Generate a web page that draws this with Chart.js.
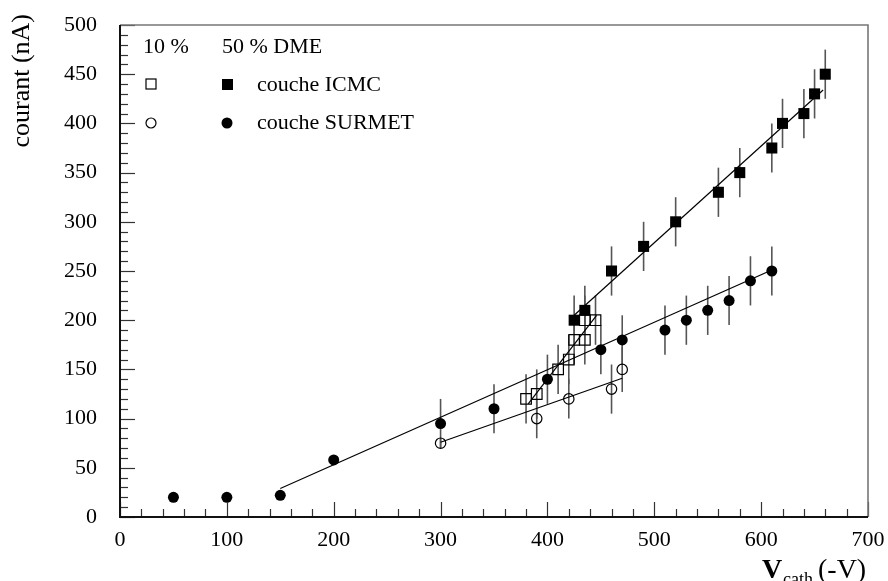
<!DOCTYPE html>
<html>
<head>
<meta charset="utf-8">
<script src="https://cdn.jsdelivr.net/npm/chart.js@4.4.1/dist/chart.umd.min.js"></script>
<style>
  body { margin: 0; background: #fff; }
  canvas { display: block; }
</style>
</head>
<body>
<canvas id="chart" width="888" height="581"></canvas>
<script>
// axes
const xTicks = [0, 100, 200, 300, 400, 500, 600, 700];
const yTicks = [0, 50, 100, 150, 200, 250, 300, 350, 400, 450, 500];
const xMinorStep = 20;
const yMinorStep = 10;

// 50 % DME, couche ICMC (carrés pleins)
const icmc50X = [425, 435, 460, 490, 520, 560, 580, 610, 620, 640, 650, 660];
const icmc50Y = [200, 210, 250, 275, 300, 330, 350, 375, 400, 410, 430, 450];
const icmc50Err = [25, 25, 25, 25, 25, 25, 25, 25, 25, 25, 25, 25];

// 50 % DME, couche SURMET (ronds pleins)
const surmet50X = [50, 100, 150, 200, 300, 350, 400, 450, 470, 510, 530, 550, 570, 590, 610];
const surmet50Y = [20, 20, 22, 58, 95, 110, 140, 170, 180, 190, 200, 210, 220, 240, 250];
const surmet50Err = [0, 0, 0, 0, 25, 25, 25, 25, 25, 25, 25, 25, 25, 25, 25];

// 10 % DME, couche ICMC (carrés vides)
const icmc10X = [380, 390, 410, 420, 425, 435, 435, 445];
const icmc10Y = [120, 125, 150, 160, 180, 180, 200, 200];
const icmc10Err = [25, 25, 25, 25, 25, 25, 25, 25];

// 10 % DME, couche SURMET (ronds vides)
const surmet10X = [300, 390, 420, 460, 470];
const surmet10Y = [75, 100, 120, 130, 150];
const surmet10Err = [5, 20, 20, 25, 23];

// droites d'ajustement (extrémités)
const fitIcmc50X = [425, 658];
const fitIcmc50Y = [205, 434];
const fitSurmet50X = [150, 610];
const fitSurmet50Y = [29, 251];
const fitIcmc10X = [382, 446];
const fitIcmc10Y = [115, 205];
const fitSurmet10X = [300, 470];
const fitSurmet10Y = [76, 141];

const FONT = "'Liberation Serif', 'DejaVu Serif', serif";

const toPoints = (xs, ys) => xs.map((x, i) => ({ x, y: ys[i] }));

const fitLine = (xs, ys) => ({
    type: 'line',
    data: toPoints(xs, ys),
    borderColor: '#000',
    borderWidth: 1.2,
    pointRadius: 0,
    fill: false,
    order: 5,
});

const markers = (xs, ys, errs, style, radius, filled) => ({
    type: 'scatter',
    data: toPoints(xs, ys),
    errors: errs,
    pointStyle: style,
    pointRadius: radius,
    pointHoverRadius: radius,
    borderColor: '#000',
    borderWidth: filled ? 0 : 1.2,
    backgroundColor: filled ? '#000' : 'rgba(0,0,0,0)',
    order: filled ? 1 : 2,
});

// barres d'erreur verticales
const errorBars = {
    id: 'errorBars',
    beforeDatasetsDraw(chart) {
        const { ctx, chartArea, scales } = chart;
        ctx.save();
        ctx.beginPath();
        ctx.rect(chartArea.left, chartArea.top, chartArea.right - chartArea.left, chartArea.bottom - chartArea.top);
        ctx.clip();
        ctx.strokeStyle = '#555';
        ctx.lineWidth = 1.6;
        chart.data.datasets.forEach((ds) => {
            if (!ds.errors) return;
            ds.data.forEach((p, i) => {
                const e = ds.errors[i];
                if (!e) return;
                const px = scales.x.getPixelForValue(p.x);
                ctx.beginPath();
                ctx.moveTo(px, scales.y.getPixelForValue(p.y - e));
                ctx.lineTo(px, scales.y.getPixelForValue(p.y + e));
                ctx.stroke();
            });
        });
        ctx.restore();
    },
};

// cadre, graduations intérieures, titres et légende
const frame = {
    id: 'frame',
    afterDraw(chart) {
        const { ctx, chartArea: a, scales } = chart;
        const sx = scales.x, sy = scales.y;
        ctx.save();

        // graduations
        ctx.strokeStyle = '#333';
        ctx.lineWidth = 1.2;
        for (let v = 0; v <= sx.max; v += xMinorStep) {
            const px = Math.round(sx.getPixelForValue(v)) + 0.5;
            const len = v % 100 === 0 ? 15 : 8;
            ctx.beginPath();
            ctx.moveTo(px, a.bottom);
            ctx.lineTo(px, a.bottom - len);
            ctx.stroke();
        }
        for (let v = 0; v <= sy.max; v += yMinorStep) {
            const py = Math.round(sy.getPixelForValue(v)) + 0.5;
            const len = v % 50 === 0 ? 15 : 8;
            ctx.beginPath();
            ctx.moveTo(a.left, py);
            ctx.lineTo(a.left + len, py);
            ctx.stroke();
        }

        // cadre
        ctx.lineWidth = 1.6;
        ctx.strokeStyle = '#777';
        ctx.beginPath();
        ctx.moveTo(a.left, a.top);
        ctx.lineTo(a.right, a.top);
        ctx.lineTo(a.right, a.bottom);
        ctx.stroke();
        ctx.lineWidth = 2;
        ctx.strokeStyle = '#111';
        ctx.beginPath();
        ctx.moveTo(a.left, a.top);
        ctx.lineTo(a.left, a.bottom);
        ctx.lineTo(a.right, a.bottom);
        ctx.stroke();

        // titre axe y
        ctx.fillStyle = '#000';
        ctx.font = `26px ${FONT}`;
        ctx.save();
        ctx.translate(29, 14);
        ctx.rotate(-Math.PI / 2);
        ctx.textAlign = 'right';
        ctx.textBaseline = 'alphabetic';
        ctx.fillText('courant (nA)', 0, 0);
        ctx.restore();

        // titre axe x
        ctx.textAlign = 'left';
        ctx.textBaseline = 'alphabetic';
        ctx.font = `bold 28px ${FONT}`;
        ctx.fillText('V', 762, 578);
        ctx.font = `18px ${FONT}`;
        ctx.fillText('cath', 783, 585);
        ctx.font = `28px ${FONT}`;
        ctx.fillText('(-V)', 818, 578);

        // légende
        ctx.font = `22px ${FONT}`;
        ctx.textBaseline = 'middle';
        ctx.fillText('10 %', 143, 47);
        ctx.fillText('50 % DME', 222, 47);
        ctx.fillText('couche ICMC', 257, 85);
        ctx.fillText('couche SURMET', 257, 123);
        ctx.lineWidth = 1.2;
        ctx.strokeStyle = '#000';
        ctx.strokeRect(146, 79, 10, 10);
        ctx.fillRect(222, 79, 11, 11);
        ctx.beginPath();
        ctx.arc(151, 123, 5, 0, Math.PI * 2);
        ctx.stroke();
        ctx.beginPath();
        ctx.arc(227, 123, 5.5, 0, Math.PI * 2);
        ctx.fill();

        ctx.restore();
    },
};

const tickFont = { family: FONT, size: 22 };

new Chart(document.getElementById('chart'), {
    data: {
        datasets: [
            fitLine(fitIcmc50X, fitIcmc50Y),
            fitLine(fitSurmet50X, fitSurmet50Y),
            fitLine(fitIcmc10X, fitIcmc10Y),
            fitLine(fitSurmet10X, fitSurmet10Y),
            markers(icmc10X, icmc10Y, icmc10Err, 'rect', 7.5, false),
            markers(surmet10X, surmet10Y, surmet10Err, 'circle', 5.2, false),
            markers(icmc50X, icmc50Y, icmc50Err, 'rect', 7.8, true),
            markers(surmet50X, surmet50Y, surmet50Err, 'circle', 5.5, true),
        ],
    },
    options: {
        responsive: false,
        animation: false,
        devicePixelRatio: 1,
        layout: { padding: { top: 25, right: 20, left: 0, bottom: 0 } },
        plugins: { legend: { display: false }, tooltip: { enabled: false } },
        scales: {
            x: {
                type: 'linear',
                min: 0,
                max: 700,
                afterBuildTicks: (s) => { s.ticks = xTicks.map((v) => ({ value: v })); },
                afterFit: (s) => { s.height = 64; s.paddingLeft = 0; s.paddingRight = 0; },
                grid: { display: false, drawTicks: false },
                border: { display: false },
                ticks: { font: tickFont, color: '#000', padding: 10, maxRotation: 0 },
            },
            y: {
                type: 'linear',
                min: 0,
                max: 500,
                afterBuildTicks: (s) => { s.ticks = yTicks.map((v) => ({ value: v })); },
                afterFit: (s) => { s.width = 120; s.paddingTop = 0; s.paddingBottom = 0; },
                grid: { display: false, drawTicks: false },
                border: { display: false },
                ticks: { font: tickFont, color: '#000', padding: 23 },
            },
        },
    },
    plugins: [errorBars, frame],
});
</script>
</body>
</html>
